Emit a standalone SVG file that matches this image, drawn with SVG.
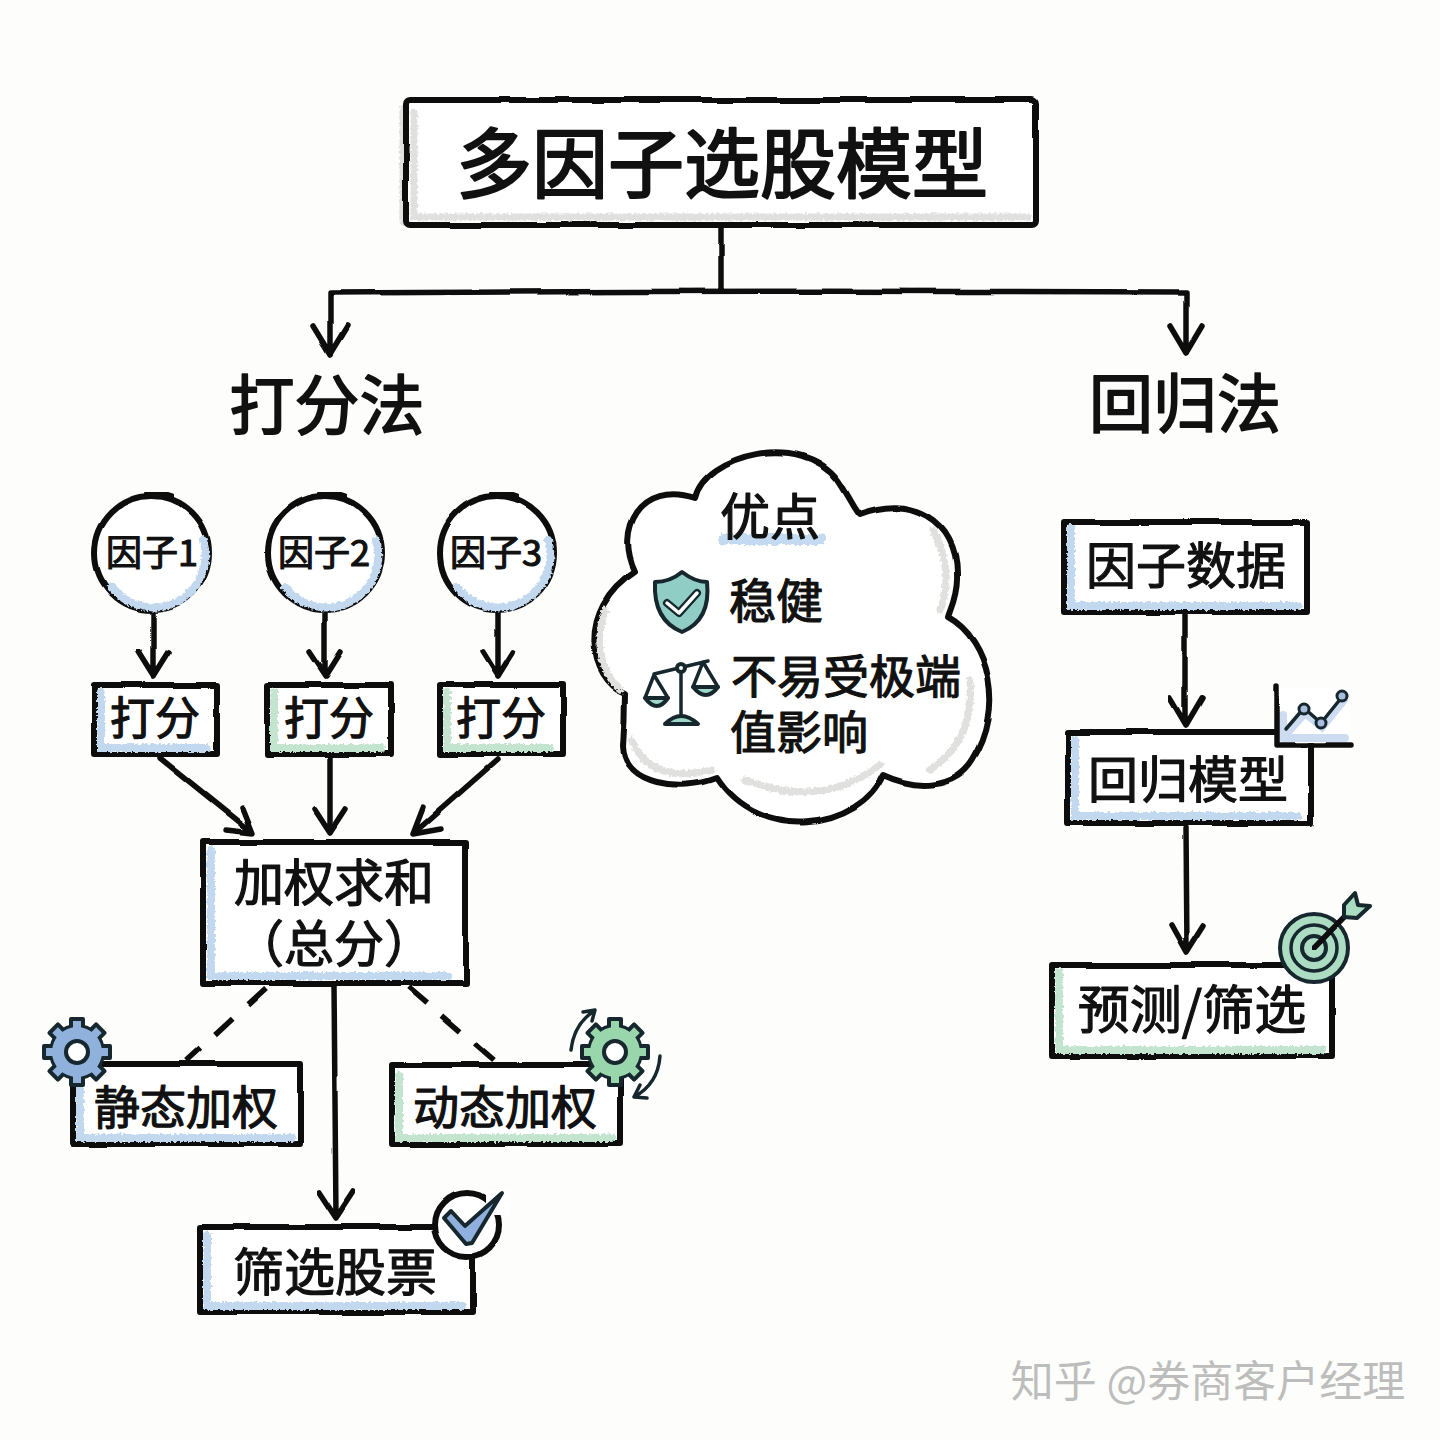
<svg xmlns="http://www.w3.org/2000/svg" width="1440" height="1440" viewBox="0 0 1440 1440">
<style>
.bg{fill:#fdfdfb}
.box{fill:#fff;stroke:#111;stroke-width:6;stroke-linejoin:round;stroke-linecap:round;filter:url(#wob)}
.line{fill:none;stroke:#111;stroke-width:5.5;stroke-linecap:round;stroke-linejoin:round;filter:url(#wob)}
.dash{stroke-dasharray:24 20;stroke-linecap:butt}
.blue,.green,.grey{fill:none;stroke-width:8;stroke-linecap:round;filter:url(#rough)}
.blue{stroke:#c2d8ee}
.green{stroke:#c3e5cf}
.grey{stroke:#e0e0df;stroke-width:7}
.icon{stroke:#16282e;stroke-width:4;stroke-linejoin:round;stroke-linecap:round}
.thin{fill:none;stroke:#16282e;stroke-width:3.5;stroke-linejoin:round;stroke-linecap:round}
text{font-family:"Noto Sans CJK SC","Noto Sans",sans-serif;fill:#111;stroke:#111;stroke-width:1.2;stroke-linejoin:round;text-anchor:middle}
</style>
<defs>
<filter id="wob" x="-5%" y="-5%" width="110%" height="110%"><feTurbulence type="fractalNoise" baseFrequency="0.018" numOctaves="2" seed="4"/><feDisplacementMap in="SourceGraphic" scale="4" xChannelSelector="R" yChannelSelector="G"/></filter>
<filter id="rough" x="-10%" y="-10%" width="120%" height="120%"><feTurbulence type="fractalNoise" baseFrequency="0.35" numOctaves="2" seed="7"/><feDisplacementMap in="SourceGraphic" scale="5" xChannelSelector="R" yChannelSelector="G"/></filter>
<filter id="smear" x="-10%" y="-60%" width="120%" height="220%"><feTurbulence type="fractalNoise" baseFrequency="0.3" numOctaves="2" seed="3"/><feDisplacementMap in="SourceGraphic" scale="6" xChannelSelector="R" yChannelSelector="G"/></filter>
<g id="gear"><circle r="26" stroke="#16282e" stroke-width="4"/><g stroke="#16282e" stroke-width="4" stroke-linejoin="round"><rect x="-6" y="-33" width="12" height="12"/><rect x="-6" y="-33" width="12" height="12" transform="rotate(45)"/><rect x="-6" y="-33" width="12" height="12" transform="rotate(90)"/><rect x="-6" y="-33" width="12" height="12" transform="rotate(135)"/><rect x="-6" y="-33" width="12" height="12" transform="rotate(180)"/><rect x="-6" y="-33" width="12" height="12" transform="rotate(225)"/><rect x="-6" y="-33" width="12" height="12" transform="rotate(270)"/><rect x="-6" y="-33" width="12" height="12" transform="rotate(315)"/></g><circle r="25"/><circle r="11" fill="#fff" stroke="#16282e" stroke-width="4"/></g>
</defs>
<rect class="bg" width="1440" height="1440"/>
<g id="connectors">
<path class="line" d="M721 226V290M330 293Q720 290 1186 292M330 293V352M313 326L330 354L347 326M1186 292V352M1170 326L1186 353L1202 326"/>
<path class="line" d="M153 610V674M138 652L153 676L168 652M325 610V674M310 652L326 676L341 652M498 610V674M483 652L498 676L513 652"/>
<path class="line" d="M160 758L252 832M226 830L253 833L243 808M330 756V832M315 810L330 833L345 810M497 760L414 833M423 808L413 834L441 829"/>
<path class="line" d="M334 985L336 1216M319 1192L336 1218L353 1192"/>
<path class="line dash" d="M265 989L187 1061M409 987L494 1060"/>
<path class="line" d="M1185 616V723M1170 698L1186 725L1202 698M1186 828L1187 952M1172 926L1187 953L1204 926"/>
</g>
<g id="title"><path class="grey" d="M403 108V222M414 104V218H1032"/><rect class="box" x="406" y="100" width="630" height="125" rx="4"/><path class="grey" d="M414 112V217H1028"/><text x="722" y="192" font-size="76" style="stroke-width:2.2">多因子选股模型</text></g>
<g id="method1"><text x="327" y="429" font-size="65" style="stroke-width:1.8">打分法</text></g>
<g id="method2"><text x="1185" y="427" font-size="64" style="stroke-width:1.8">回归法</text></g>
<g id="factor1"><circle class="box" cx="152" cy="553" r="57"/><path class="line" d="M146 495Q156 490 172 496" stroke-width="4"/><path class="blue" d="M203 540A52 52 0 0 1 112 587" stroke-width="6"/><text x="152" y="566" font-size="36">因子1</text></g>
<g id="factor2"><circle class="box" cx="325" cy="553" r="57"/><path class="line" d="M319 495Q329 490 345 496" stroke-width="4"/><path class="blue" d="M376 540A52 52 0 0 1 285 587" stroke-width="6"/><text x="324" y="566" font-size="36">因子2</text></g>
<g id="factor3"><circle class="box" cx="497" cy="553" r="57"/><path class="line" d="M491 495Q501 490 517 496" stroke-width="4"/><path class="blue" d="M548 540A52 52 0 0 1 457 587" stroke-width="6"/><text x="496" y="566" font-size="36">因子3</text></g>
<g id="score1"><rect class="box" x="94" y="685" width="123" height="69"/><path class="blue" d="M101 692V748H207"/><text x="155" y="735" font-size="45">打分</text></g>
<g id="score2"><rect class="box" x="267" y="685" width="124" height="69"/><path class="green" d="M274 692V748H381"/><text x="329" y="735" font-size="45">打分</text></g>
<g id="score3"><rect class="box" x="440" y="685" width="123" height="69"/><path class="green" d="M447 692V748H550"/><text x="501" y="735" font-size="45">打分</text></g>
<g id="sum"><rect class="box" x="203" y="842" width="263" height="141"/><path class="blue" d="M211 850V976H448"/><text font-size="50"><tspan x="334" y="901">加权求和</tspan><tspan x="334" y="962">（总分）</tspan></text></g>
<g id="static"><rect class="box" x="73" y="1064" width="228" height="80"/><path class="blue" d="M80 1085V1138H292"/><text x="186" y="1124" font-size="46">静态加权</text><use href="#gear" x="77" y="1052" fill="#8fb1dc"/></g>
<g id="dynamic"><rect class="box" x="392" y="1065" width="228" height="79"/><path class="green" d="M399 1075V1138H612"/><text x="505" y="1124" font-size="46">动态加权</text><use href="#gear" x="615" y="1052" fill="#9ad6ab"/><path class="thin" d="M571 1050Q574 1024 594 1011M583 1012L595 1010L592 1021M660 1056Q658 1084 634 1097M647 1098L634 1097L640 1085"/></g>
<g id="pick"><rect class="box" x="200" y="1227" width="273" height="85"/><path class="blue" d="M207 1235V1306H462"/><text x="335" y="1291" font-size="51">筛选股票</text><circle class="box" cx="467" cy="1225" r="32"/><path fill="#fff" d="M486 1190H510V1215H486Z"/><path fill="#8fb0de" stroke="#16282e" stroke-width="4" stroke-linejoin="round" d="M444 1218L451 1211L465 1226L502 1193L472 1243L466 1244Z"/></g>
<g id="cloud"><path class="box" d="M695 498C705 455 800 430 838 480 850 498 855 510 860 515 910 495 958 520 957 575 958 595 950 610 948 617 990 640 1005 710 973 760 955 790 915 790 883 775 860 830 760 845 717 778 680 792 625 785 623 747 625 720 625 700 625 693 590 680 575 610 635 572 615 530 640 480 695 498Z"/>
<path class="grey" d="M933 530Q955 570 940 610M970 680Q975 740 930 770M880 765Q820 810 745 780M712 770Q650 785 632 740M620 690Q590 660 605 610"/>
<rect x="718" y="534" width="108" height="11" rx="5" fill="#c3daf0" filter="url(#smear)"/>
<text x="770" y="535" font-size="50">优点</text><text x="776" y="618" font-size="47">稳健</text><text font-size="46"><tspan x="846" y="693">不易受极端</tspan><tspan x="799" y="749">值影响</tspan></text>
<path class="icon" fill="#8fcdc5" d="M682 572Q695 582 707 582Q711 620 682 632Q653 620 655 582Q670 582 682 572Z"/><path fill="none" stroke="#16282e" stroke-width="8" stroke-linecap="round" stroke-linejoin="round" d="M667 603L679 613L697 593"/><path fill="none" stroke="#fff" stroke-width="3.5" stroke-linecap="round" stroke-linejoin="round" d="M667 603L679 613L697 593"/>
<path class="thin" d="M654 674L708 661M681 668V716M654 675L645 698H668ZM703 662L693 687H718Z"/><path class="icon" fill="#9fd8c8" stroke-width="3" d="M645 698H668Q657 714 645 698ZM693 687H718Q706 703 693 687ZM665 724Q681 708 698 724Z"/><circle class="icon" fill="#fff" stroke-width="3" cx="681" cy="668" r="4"/></g>
<g id="data"><rect class="box" x="1064" y="522" width="243" height="90"/><path class="blue" d="M1071 528V606H1298"/><text x="1186" y="584" font-size="50">因子数据</text></g>
<g id="regression"><rect class="box" x="1068" y="732" width="243" height="91"/><path class="blue" d="M1075 740V816H1298"/><text x="1188" y="798" font-size="50">回归模型</text>
<rect x="1279" y="688" width="72" height="55" fill="#fff"/><path stroke="#cddcf0" stroke-width="8" fill="none" stroke-linecap="round" d="M1287 733L1305 713L1322 727L1344 700M1283 738H1345M1283 738V715"/><path class="line" stroke-width="4.5" d="M1277 686V745H1351"/><path class="thin" stroke-width="3" d="M1286 729L1304 708L1321 723L1342 697"/><g fill="#a9bedf" stroke="#16282e" stroke-width="3"><circle cx="1304" cy="709" r="5"/><circle cx="1321" cy="723" r="5"/><circle cx="1342" cy="696" r="5"/></g></g>
<g id="predict"><rect class="box" x="1052" y="965" width="280" height="91"/><path class="green" d="M1059 972V1050H1322"/><text x="1192" y="1029" font-size="52">预测/筛选</text>
<circle class="icon" fill="#acdcc2" stroke-width="5" cx="1314" cy="948" r="34"/><circle fill="none" stroke="#16282e" stroke-width="3.5" cx="1314" cy="948" r="23"/><circle class="icon" fill="#acdcc2" cx="1314" cy="948" r="12"/><path class="line" d="M1314 948L1349 912"/><path class="icon" fill="#a9dcc0" stroke-width="3" d="M1344 917L1344 905L1355 893L1358 905L1370 906L1357 918Z"/></g>
<g id="watermark"><text x="1208" y="1397" font-size="43" style="fill:#bdbdbd;stroke:none">知乎 @券商客户经理</text></g>
</svg>
